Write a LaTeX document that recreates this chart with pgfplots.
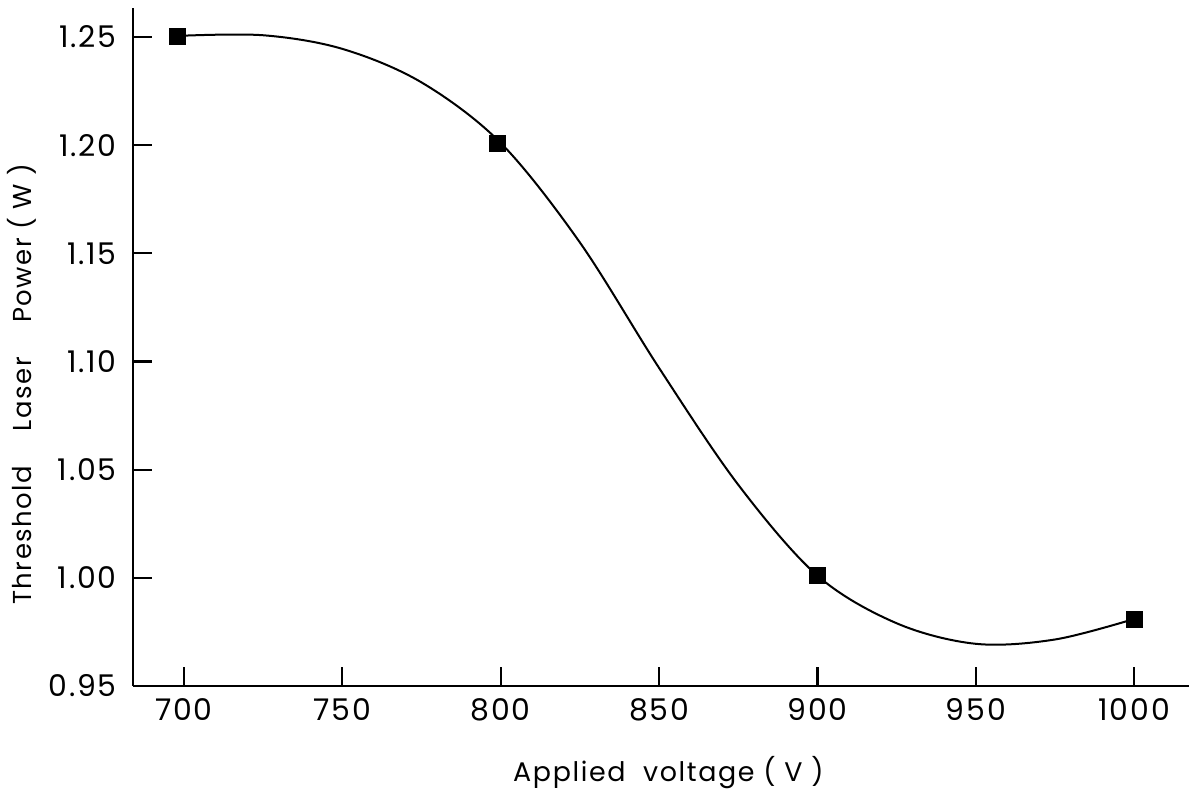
\documentclass[border=0pt]{standalone}
\usepackage{pgfplots}
\pgfplotsset{compat=1.18}
\usepackage{fontspec}
\setmainfont{Poppins}
\newfontfamily\spaced[LetterSpace=6]{Poppins}
\begin{document}
\begin{tikzpicture}
\begin{axis}[
  at={(0,0)}, anchor=south west,
  scale only axis,
  width=528bp, height=339bp,
  xmin=683.9, xmax=1017.3,
  ymin=0.95, ymax=1.2634,
  axis x line=bottom, axis y line=left,
  axis line style={-, line width=1.3bp},
  tick align=inside,
  major tick length=9.5bp,
  tick style={line width=1.1bp, black},
  xtick={700,750,800,850,900,950,1000},
  ytick={0.95,1.00,1.05,1.10,1.15,1.20,1.25},
  /pgf/number format/assume math mode=true,
  xticklabel style={/pgf/number format/1000 sep={}, anchor=north, inner ysep=0pt, yshift=-6bp, font=\spaced\fontsize{15}{18}\selectfont},
  yticklabel style={/pgf/number format/.cd, fixed, fixed zerofill, precision=2, /tikz/.cd, anchor=east, inner xsep=0pt, xshift=-8bp, font=\spaced\fontsize{15}{18}\selectfont},
  xlabel={Applied\ \ voltage ( V )},
  ylabel={Threshold\quad\ Laser\quad\ Power ( W )},
  xlabel style={at={(axis description cs:0.507,-0.128)}, anchor=center, font=\spaced\fontsize{13.5}{16}\selectfont},
  ylabel style={at={(axis description cs:-0.105,0.445)}, anchor=center, font=\spaced\fontsize{13}{16}\selectfont},
]
\addplot[black, line width=1bp, smooth, tension=0.55] coordinates {
(698,1.2505) (725,1.2508) (750,1.2445) (775,1.229) (800,1.201)
(825,1.155) (850,1.097) (875,1.043) (900,1.001)
(925,0.979) (950,0.9695) (975,0.9715) (1000,0.981)
};
\addplot[only marks, mark=square*, mark size=4bp, black] coordinates {
(698,1.2505) (799,1.201) (900,1.001) (1000,0.981)
};
\end{axis}
\pgfresetboundingbox
\path (-66.5bp,-56bp) rectangle (528bp,343bp);
\end{tikzpicture}
\end{document}
